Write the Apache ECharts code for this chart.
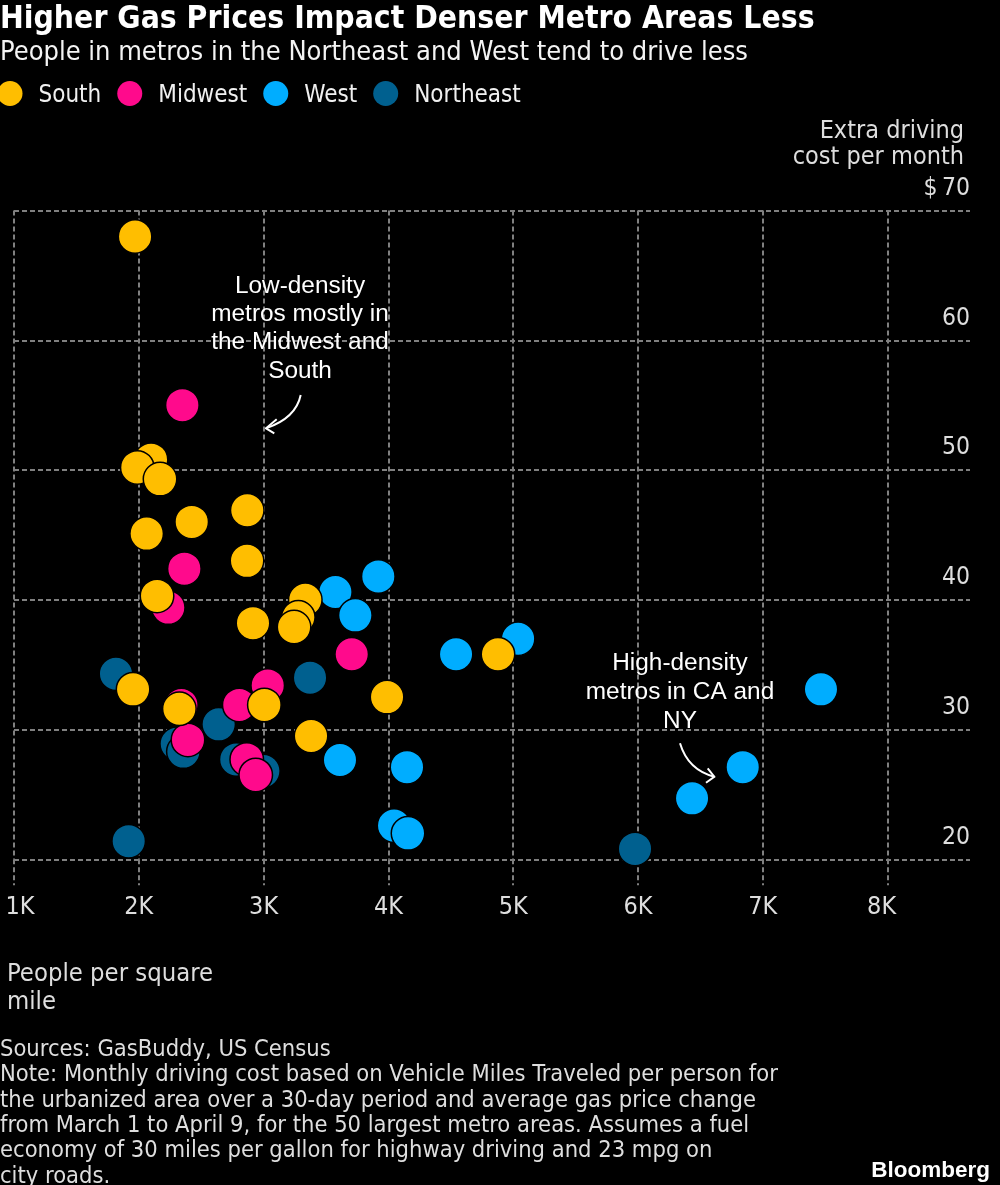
<!DOCTYPE html>
<html lang="en">
<head>
<meta charset="utf-8" />
<title>Higher Gas Prices Impact Denser Metro Areas Less</title>
<script src="https://cdn.jsdelivr.net/npm/echarts@6/dist/echarts.min.js"></script>
<style>
html, body { margin: 0; padding: 0; background: #000; }
#chart { width: 1000px; height: 1185px; }
</style>
</head>
<body>
<div id="chart"></div>
<script>
// [people per square mile, extra driving cost per month]
var south = [[1970, 68.0], [2098, 50.8], [1988, 50.2], [2170, 49.3], [2869, 46.9], [2424, 46.0], [2063, 45.1],
    [2867, 43.0], [2146, 40.3], [3334, 40.0], [3278, 38.65], [2915, 38.2], [3244, 37.9], [1954, 33.1],
    [2325, 31.6], [3006, 31.9], [3380, 29.5], [4878, 35.8], [3989, 32.5]];
var midwest = [[2349, 55.0], [2365, 42.4], [2236, 39.4], [3706, 35.8], [3033, 33.4], [2805, 31.9], [2341, 31.9],
    [2394, 29.2], [2865, 27.7], [2937, 26.5]];
var west = [[3575, 40.6], [3919, 41.8], [3735, 38.8], [4542, 35.8], [5039, 37.0], [7466, 33.1], [6839, 27.1],
    [6433, 24.7], [3612, 27.65], [4149, 27.1], [4045, 22.6], [4157, 22.0]];
var northeast = [[1817, 34.3], [1919, 21.4], [3372, 34.0], [2640, 30.4], [2304, 28.9], [2357, 28.3], [2781, 27.7],
    [2998, 26.8], [5976, 20.8]];

var xTicks = [1000, 2000, 3000, 4000, 5000, 6000, 7000, 8000];
var legendOrder = ['South', 'Midwest', 'West', 'Northeast'];
var colors = { South: '#ffbe00', Midwest: '#ff0a8c', West: '#00adff', Northeast: '#00608f' };

var titleText = 'Higher Gas Prices Impact Denser Metro Areas Less';
var subtitleText = 'People in metros in the Northeast and West tend to drive less';
var yTitle = 'Extra driving\ncost per month';
var xTitle = 'People per square\nmile';
var noteText = 'Sources: GasBuddy, US Census\n' +
    'Note: Monthly driving cost based on Vehicle Miles Traveled per person for\n' +
    'the urbanized area over a 30-day period and average gas price change\n' +
    'from March 1 to April 9, for the 50 largest metro areas. Assumes a fuel\n' +
    'economy of 30 miles per gallon for highway driving and 23 mpg on\n' +
    'city roads.';

var bodyFont = '"DejaVu Sans Condensed", "DejaVu Sans", sans-serif';
var noteFont = 'Liberation Sans, Arial, sans-serif';
var gridColor = '#808080';
var labelColor = '#dedede';
var dash = [5, 3];

function scatter(name, data) {
    return {
        name: name,
        type: 'scatter',
        data: data,
        symbolSize: 33.5,
        itemStyle: { color: colors[name], opacity: 1, borderColor: '#000', borderWidth: 1.5 }
    };
}

function arrow(curve, head) {
    return [
        { type: 'bezierCurve', shape: curve, style: { stroke: '#fff', lineWidth: 2, fill: null } },
        { type: 'polyline', shape: { points: head }, style: { stroke: '#fff', lineWidth: 2, fill: null } }
    ];
}

function note(text, x, y, align, font, size, lineHeight, color, weight) {
    return {
        type: 'text', x: x, y: y, z: 20,
        style: { text: text, fill: color, font: (weight || 'normal') + ' ' + size + 'px ' + font,
            align: align, verticalAlign: 'top', lineHeight: lineHeight }
    };
}

var tickLabelStyle = { color: labelColor, fontFamily: bodyFont, fontSize: 25 };

var chart = echarts.init(document.getElementById('chart'), null, { renderer: 'canvas' });

chart.setOption({
    backgroundColor: '#000',
    animation: false,
    legend: {
        data: legendOrder,
        left: -2.5,
        top: 81,
        padding: 0,
        icon: 'circle',
        itemWidth: 25,
        itemHeight: 25,
        itemGap: 16,
        selectedMode: false,
        itemStyle: { borderWidth: 0 },
        formatter: '{a|{name}}',
        textStyle: {
            color: '#f0f0f0', fontFamily: bodyFont, fontSize: 24,
            rich: { a: { color: '#f0f0f0', fontFamily: bodyFont, fontSize: 24, padding: [5, 0, 0, 11] } }
        }
    },
    grid: { left: 14, width: 956, top: 210.5, height: 648.8, outerBoundsMode: 'none' },
    xAxis: {
        type: 'value',
        min: 1000,
        max: 8660,
        interval: 1000,
        axisLine: { show: false },
        axisTick: { show: true, length: 26, customValues: xTicks, lineStyle: { color: gridColor, type: dash, width: 2 } },
        splitLine: { show: true, lineStyle: { color: gridColor, type: dash, width: 2 } },
        axisLabel: {
            color: labelColor, fontFamily: bodyFont, fontSize: 25, margin: 36,
            customValues: xTicks,
            rich: {
                first: Object.assign({ padding: [0, 0, 0, 12] }, tickLabelStyle),
                last: Object.assign({ padding: [0, 12, 0, 0] }, tickLabelStyle)
            },
            formatter: function (v) {
                var s = v / 1000 + 'K';
                if (v === 1000) return '{first|' + s + '}';
                if (v === 8000) return '{last|' + s + '}';
                return s;
            }
        }
    },
    yAxis: {
        type: 'value',
        position: 'right',
        min: 20,
        max: 70,
        interval: 10,
        axisLine: { show: false },
        axisTick: { show: false },
        splitLine: { show: true, lineStyle: { color: gridColor, type: dash, width: 2 } },
        axisLabel: {
            inside: true, color: labelColor, fontFamily: bodyFont, fontSize: 24.5, margin: 0,
            verticalAlign: 'bottom', lineHeight: 24, padding: [0, 0, 10, 0],
            formatter: function (v) { return v === 70 ? '$\u200970' : String(v); }
        }
    },
    series: [
        scatter('Northeast', northeast),
        scatter('West', west),
        scatter('Midwest', midwest),
        scatter('South', south)
    ],
    graphic: [
        note(titleText, 0, 3, 'left', bodyFont, 31.6, 34, '#fff', 'bold'),
        note(subtitleText, 0, 38, 'left', bodyFont, 27, 30, '#f4f4f4'),
        note(yTitle, 964, 118, 'right', bodyFont, 25, 26.5, labelColor),
        note(xTitle, 7, 961, 'left', bodyFont, 25.4, 27.5, labelColor),
        note(noteText, 0, 1037, 'left', bodyFont, 23.5, 25.4, labelColor),
        note('Low-density\nmetros mostly in\nthe Midwest and\nSouth', 300, 272, 'center', noteFont, 24.4, 28.3, '#fff'),
        note('High-density\nmetros in CA and\nNY', 680, 649, 'center', noteFont, 24.4, 29, '#fff'),
        note('Bloomberg', 990, 1158, 'right', noteFont, 22.5, 26, '#fff', 'bold')
    ].concat(
        arrow({ x1: 300.7, y1: 395, x2: 266, y2: 428.3, cpx1: 296, cpy1: 418 },
            [[276.7, 419.3], [266, 428.3], [274.3, 433.3]]),
        arrow({ x1: 680, y1: 743.3, x2: 714.3, y2: 776.7, cpx1: 688, cpy1: 770 },
            [[707.7, 768.3], [714.3, 776.7], [706, 782.7]])
    )
});
</script>
</body>
</html>
